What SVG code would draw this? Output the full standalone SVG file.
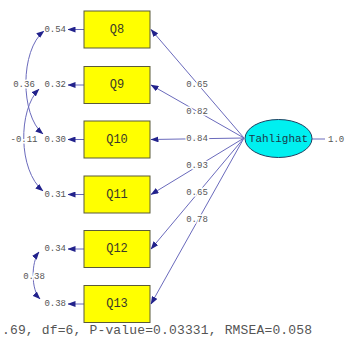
<svg xmlns="http://www.w3.org/2000/svg" width="348" height="349" viewBox="0 0 348 349">
  <defs>
    <marker id="arrow" viewBox="0 0 8 6" refX="7.5" refY="3" markerWidth="8" markerHeight="6" markerUnits="userSpaceOnUse" orient="auto-start-reverse">
      <path d="M0,0 L8,3 L0,6 z" fill="#22228c"/>
    </marker>
  </defs>
  <style>
    .box { fill: #ffff00; stroke: #5a5a3a; stroke-width: 1; }
    .boxlbl { font-family: "Liberation Mono", monospace; font-size: 12px; fill: #3a3a2a; text-anchor: middle; dominant-baseline: central; }
    .lat { fill: #00f0f0; stroke: #1f4060; stroke-width: 1; }
    .latlbl { font-family: "Liberation Mono", monospace; font-size: 11px; fill: #1a3a4a; text-anchor: middle; dominant-baseline: central; }
    .edge { fill: none; stroke: #6a6abc; stroke-width: 1; }
    .val { font-family: "Liberation Mono", monospace; font-size: 9px; fill: #555; dominant-baseline: central; paint-order: stroke; stroke: #fff; stroke-width: 3px; }
    .mid { text-anchor: middle; }
    .end { text-anchor: end; }
    .fit { font-family: "Liberation Mono", monospace; font-size: 13px; fill: #555; }
  </style>

  <!-- connectors: loadings, error arrows, error covariances -->
  <g id="connectors">
    <!-- loadings from the latent variable -->
    <path class="edge" marker-end="url(#arrow)" d="M244,138 L151,29.5"/>
    <path class="edge" marker-end="url(#arrow)" d="M244,138 L151,85"/>
    <path class="edge" marker-end="url(#arrow)" d="M244,138 L151,139.5"/>
    <path class="edge" marker-end="url(#arrow)" d="M244,138 L151,194.5"/>
    <path class="edge" marker-end="url(#arrow)" d="M244,138 L151,249"/>
    <path class="edge" marker-end="url(#arrow)" d="M244,138 L151,304"/>
    <!-- variance of the latent variable -->
    <path class="edge" d="M312,139 L325,139" stroke="#8a8a8a"/>
    <!-- measurement error arrows -->
    <path class="edge" marker-end="url(#arrow)" d="M84,29.5 L68,29.5"/>
    <path class="edge" marker-end="url(#arrow)" d="M84,85 L68,85"/>
    <path class="edge" marker-end="url(#arrow)" d="M84,139.5 L68,139.5"/>
    <path class="edge" marker-end="url(#arrow)" d="M84,194.5 L68,194.5"/>
    <path class="edge" marker-end="url(#arrow)" d="M84,249 L68,249"/>
    <path class="edge" marker-end="url(#arrow)" d="M84,304 L68,304"/>
    <!-- error covariances -->
    <path class="edge" marker-start="url(#arrow)" marker-end="url(#arrow)" d="M44,31 C20,50 20,115 43,134"/>
    <path class="edge" marker-start="url(#arrow)" marker-end="url(#arrow)" d="M39,89 C18,110 18,170 43,191"/>
    <path class="edge" marker-start="url(#arrow)" marker-end="url(#arrow)" d="M39,252 C31,262 31,290 40,299"/>

    <!-- loading values -->
    <text class="val mid" x="197" y="85">0.65</text>
    <text class="val mid" x="197" y="112">0.82</text>
    <text class="val mid" x="197" y="139">0.84</text>
    <text class="val mid" x="197" y="166">0.93</text>
    <text class="val mid" x="197" y="193">0.65</text>
    <text class="val mid" x="197" y="220">0.78</text>
    <!-- error variances -->
    <text class="val end" x="66" y="30">0.54</text>
    <text class="val end" x="66" y="85">0.32</text>
    <text class="val end" x="66" y="140">0.30</text>
    <text class="val end" x="66" y="195">0.31</text>
    <text class="val end" x="66" y="249">0.34</text>
    <text class="val end" x="66" y="304">0.38</text>
    <!-- covariance values -->
    <text class="val mid" x="24" y="85">0.36</text>
    <text class="val mid" x="24" y="140">-0.11</text>
    <text class="val mid" x="34" y="277">0.38</text>
    <!-- latent variance -->
    <text class="val" x="328" y="140">1.0</text>
  </g>

  <g id="Q8"><rect class="box" x="84" y="11" width="66" height="37"/><text class="boxlbl" x="117" y="29.5">Q8</text></g>
  <g id="Q9"><rect class="box" x="84" y="66.5" width="66" height="37"/><text class="boxlbl" x="117" y="85">Q9</text></g>
  <g id="Q10"><rect class="box" x="84" y="121" width="66" height="37"/><text class="boxlbl" x="117" y="139.5">Q10</text></g>
  <g id="Q11"><rect class="box" x="84" y="176" width="66" height="37"/><text class="boxlbl" x="117" y="194.5">Q11</text></g>
  <g id="Q12"><rect class="box" x="84" y="230.5" width="66" height="37"/><text class="boxlbl" x="117" y="249">Q12</text></g>
  <g id="Q13"><rect class="box" x="84" y="285.5" width="66" height="37"/><text class="boxlbl" x="117" y="304">Q13</text></g>

  <g id="Tahlighat">
    <ellipse class="lat" cx="278.5" cy="138.5" rx="33.5" ry="19"/>
    <text class="latlbl" x="278.5" y="138.5">Tahlighat</text>
  </g>

  <text class="fit" x="2" y="334" textLength="310" lengthAdjust="spacing">.69, df=6, P-value=0.03331, RMSEA=0.058</text>
</svg>
